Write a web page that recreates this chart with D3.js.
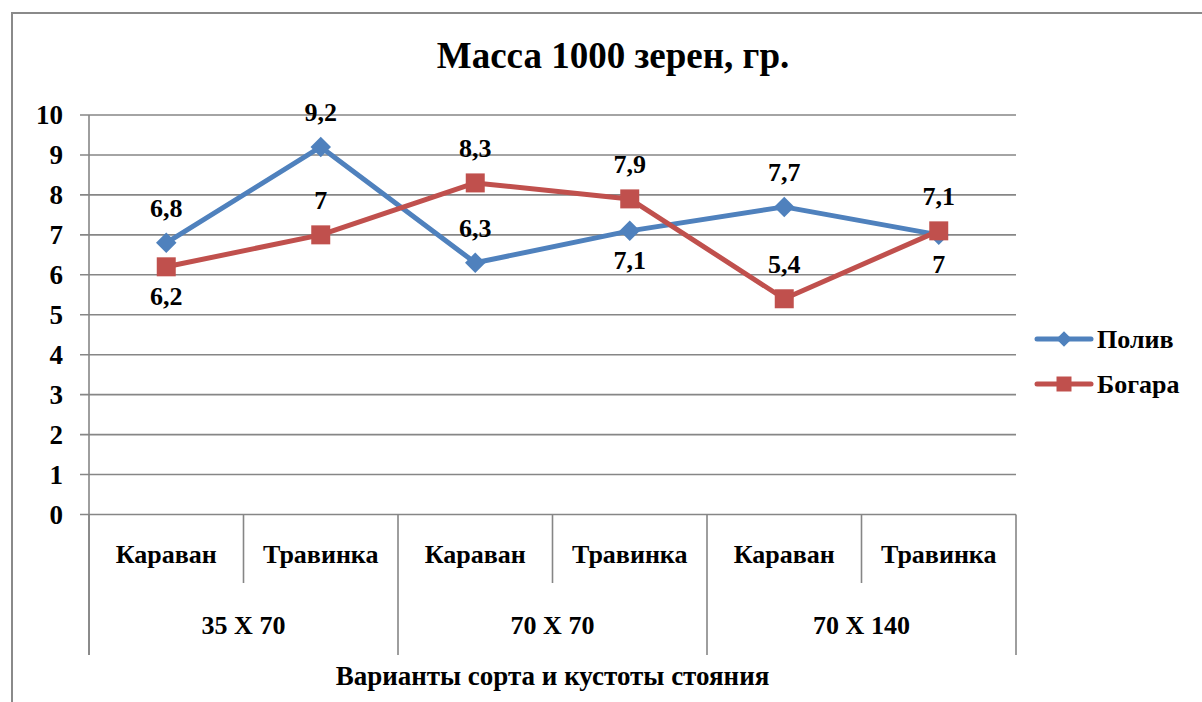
<!DOCTYPE html>
<html>
<head>
<meta charset="utf-8">
<script src="https://cdn.jsdelivr.net/npm/d3@7"></script>
<style>
  html, body { margin: 0; padding: 0; background: #fff; }
  svg { display: block; }
</style>
</head>
<body>
<svg id="chart" width="1202" height="702"></svg>
<script>
// Data
const varieties = ["Караван", "Травинка", "Караван", "Травинка", "Караван", "Травинка"];
const spacings = ["35 X 70", "70 X 70", "70 X 140"];
const seriesNames = ["Полив", "Богара"];
const polivValues = [6.8, 9.2, 6.3, 7.1, 7.7, 7];
const bogaraValues = [6.2, 7, 8.3, 7.9, 5.4, 7.1];
const polivLabelPos = ["above", "above", "above", "below", "above", "below"];
const bogaraLabelPos = ["below", "above", "above", "above", "above", "above"];
const yTicks = [0, 1, 2, 3, 4, 5, 6, 7, 8, 9, 10];
const titleText = "Масса 1000 зерен, гр.";
const xAxisTitle = "Варианты сорта и кустоты стояния";

const colors = { "Полив": "#4F81BD", "Богара": "#C0504D" };
const gridColor = "#868686";
const FONT = '"Liberation Serif", serif';

const svg = d3.select("#chart");

// Bold serif text helper
function label(sel, size) {
  return sel.style("font-family", FONT)
    .style("font-weight", "bold")
    .style("font-size", size + "px")
    .attr("fill", "#000");
}

// Outer chart frame
svg.append("rect")
  .attr("x", 12).attr("y", 13)
  .attr("width", 1220).attr("height", 720)
  .attr("fill", "none").attr("stroke", "#8a8a8a").attr("stroke-width", 2);

const plot = { left: 89, right: 1016, top: 115, bottom: 514.5 };

const x = d3.scaleBand()
  .domain(d3.range(varieties.length))
  .range([plot.left, plot.right])
  .paddingInner(0).paddingOuter(0);

const y = d3.scaleLinear().domain([0, 10]).range([plot.bottom, plot.top]);

// Horizontal gridlines
svg.append("g").selectAll("line")
  .data(yTicks)
  .join("line")
  .attr("x1", plot.left - 9).attr("x2", plot.right)
  .attr("y1", d => y(d)).attr("y2", d => y(d))
  .attr("stroke", gridColor).attr("stroke-width", 1.6);

// Y axis line (runs down through the category rows)
svg.append("line")
  .attr("x1", plot.left).attr("x2", plot.left)
  .attr("y1", plot.top).attr("y2", 655)
  .attr("stroke", gridColor).attr("stroke-width", 1.6);

// Y tick labels
label(svg.append("g").selectAll("text")
  .data(yTicks)
  .join("text")
  .attr("x", 63)
  .attr("y", d => y(d) + 9)
  .attr("text-anchor", "end"), 27)
  .text(d => d);

// Category axis: inner dividers between varieties, outer dividers between spacings
const groupSize = varieties.length / spacings.length;
const boundaries = d3.range(varieties.length + 1);
svg.append("g").selectAll("line")
  .data(boundaries)
  .join("line")
  .attr("x1", i => i < varieties.length ? x(i) : plot.right)
  .attr("x2", i => i < varieties.length ? x(i) : plot.right)
  .attr("y1", plot.bottom)
  .attr("y2", i => (i % groupSize === 0) ? 655 : 583)
  .attr("stroke", gridColor).attr("stroke-width", 1.6);

// Variety labels
label(svg.append("g").selectAll("text")
  .data(varieties)
  .join("text")
  .attr("x", (d, i) => x(i) + x.bandwidth() / 2)
  .attr("y", 563)
  .attr("text-anchor", "middle"), 26)
  .text(d => d);

// Spacing labels
label(svg.append("g").selectAll("text")
  .data(spacings)
  .join("text")
  .attr("x", (d, g) => (x(g * groupSize) + x(g * groupSize + groupSize - 1) + x.bandwidth()) / 2)
  .attr("y", 634)
  .attr("text-anchor", "middle"), 26)
  .text(d => d);

// Axis title
label(svg.append("text")
  .attr("x", (plot.left + plot.right) / 2)
  .attr("y", 685)
  .attr("text-anchor", "middle"), 27)
  .text(xAxisTitle);

// Chart title
label(svg.append("text")
  .attr("x", 613)
  .attr("y", 68)
  .attr("text-anchor", "middle"), 37)
  .text(titleText);

// Series
const series = [
  { name: seriesNames[0], values: polivValues, labelPos: polivLabelPos, marker: "diamond" },
  { name: seriesNames[1], values: bogaraValues, labelPos: bogaraLabelPos, marker: "square" }
];

const cx = i => x(i) + x.bandwidth() / 2;
const line = d3.line().x((d, i) => cx(i)).y(d => y(d));

series.forEach(s => {
  const g = svg.append("g");
  g.append("path")
    .datum(s.values)
    .attr("d", line)
    .attr("fill", "none")
    .attr("stroke", colors[s.name])
    .attr("stroke-width", 5)
    .attr("stroke-linejoin", "round");

  const sz = s.marker === "diamond" ? 14.5 : 19;
  g.selectAll("path.m")
    .data(s.values)
    .join("path")
    .attr("class", "m")
    .attr("d", d3.symbol(d3.symbolSquare, sz * sz)())
    .attr("transform", (d, i) => `translate(${cx(i)},${y(d)})` + (s.marker === "diamond" ? " rotate(45)" : ""))
    .attr("fill", colors[s.name]);
});

// Data labels
series.forEach(s => {
  label(svg.append("g").selectAll("text")
    .data(s.values)
    .join("text")
    .attr("x", (d, i) => cx(i))
    .attr("y", (d, i) => s.labelPos[i] === "above" ? y(d) - 26 : y(d) + 38)
    .attr("text-anchor", "middle"), 26)
    .text(d => String(d).replace(".", ","));
});

// Legend
const legend = svg.append("g");
const legendY = [339, 384];
series.forEach((s, k) => {
  const ly = legendY[k];
  legend.append("line")
    .attr("x1", 1037).attr("x2", 1091)
    .attr("y1", ly).attr("y2", ly)
    .attr("stroke", colors[s.name]).attr("stroke-width", 5)
    .attr("stroke-linecap", "round");
  const sz = s.marker === "diamond" ? 11 : 15;
  legend.append("path")
    .attr("d", d3.symbol(d3.symbolSquare, sz * sz)())
    .attr("transform", `translate(1064,${ly})` + (s.marker === "diamond" ? " rotate(45)" : ""))
    .attr("fill", colors[s.name]);
  label(legend.append("text")
    .attr("x", 1097)
    .attr("y", ly + 9), 26)
    .text(s.name);
});
</script>
</body>
</html>
